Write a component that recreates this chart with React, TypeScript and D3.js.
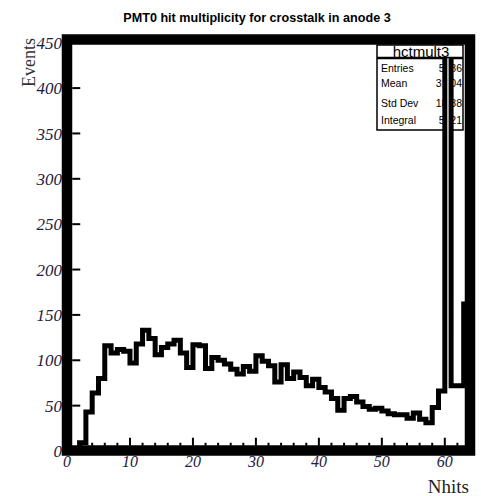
import React, { useRef, useEffect } from 'react';
import * as d3 from 'd3';

// hit multiplicity histogram, one bin per Nhits value (0..63)
const counts = [
  0, 0, 9, 43, 64, 80, 116, 108, 112, 110,
  97, 118, 133, 124, 106, 114, 118, 122, 108, 92,
  117, 116, 91, 103, 100, 96, 90, 85, 93, 88,
  105, 99, 94, 76, 95, 80, 87, 81, 72, 79,
  70, 65, 58, 45, 58, 60, 54, 49, 46, 47,
  44, 41, 40, 40, 36, 42, 35, 31, 48, 66,
  484, 72, 72, 162,
];
const yTicks = [0, 50, 100, 150, 200, 250, 300, 350, 400, 450];
const xTicks = [0, 10, 20, 30, 40, 50, 60];
const statLabels = ['Entries', 'Mean', 'Std Dev', 'Integral'];
const statValues = ['5386', '31.04', '18.88', '5321'];

function App() {
  const svgRef = useRef<SVGSVGElement>(null);

  useEffect(() => {
    const svg = d3.select(svgRef.current);
    svg.selectAll('*').remove();

    const width = 481;
    const height = 496;
    const left = 67, right = 470, top = 40, bottom = 451;

    const x = d3.scaleLinear().domain([0, 64]).range([left, right]);
    const y = d3.scaleLinear().domain([0, 453]).range([bottom, top]);

    svg.append('rect').attr('width', width).attr('height', height).attr('fill', '#fff');

    // Title
    svg.append('text')
      .attr('x', 257)
      .attr('y', 22)
      .attr('text-anchor', 'middle')
      .attr('font-family', 'Liberation Sans, Arial, sans-serif')
      .attr('font-weight', 'bold')
      .attr('font-size', '12.6px')
      .text('PMT0 hit multiplicity for crosstalk in anode 3');

    // Stats box body (the histogram spike is drawn over it)
    const sb = svg.append('g').attr('font-family', 'Liberation Sans, Arial, sans-serif');
    sb.append('rect')
      .attr('x', 377).attr('y', 58.5).attr('width', 86).attr('height', 71.5)
      .attr('fill', '#fff').attr('stroke', '#000').attr('stroke-width', 1.5);
    const rowY = [72, 87, 107, 124];
    statLabels.forEach((lab, i) => {
      sb.append('text').attr('x', 381).attr('y', rowY[i])
        .attr('font-size', '10.5px').text(lab);
      sb.append('text').attr('x', 462).attr('y', rowY[i])
        .attr('text-anchor', 'end')
        .attr('font-size', '10.5px').text(statValues[i]);
    });

    // Histogram
    svg.append('clipPath').attr('id', 'frameClip')
      .append('rect')
      .attr('x', left).attr('y', top)
      .attr('width', right - left).attr('height', bottom - top);

    const pts: [number, number][] = [];
    counts.forEach((c, i) => {
      pts.push([i, c]);
      pts.push([i + 1, c]);
    });

    const area = d3.area<[number, number]>()
      .x(d => x(d[0]))
      .y0(y(0))
      .y1(d => y(d[1]));
    const line = d3.line<[number, number]>()
      .x(d => x(d[0]))
      .y(d => y(d[1]));

    const hg = svg.append('g').attr('clip-path', 'url(#frameClip)');
    hg.append('path').attr('d', area(pts)).attr('fill', '#fff');
    hg.append('path').attr('d', line(pts))
      .attr('fill', 'none')
      .attr('stroke', '#000')
      .attr('stroke-width', 5)
      .attr('stroke-linejoin', 'miter');

    // Stats box title sits on top of the spike
    const st = svg.append('g').attr('font-family', 'Liberation Sans, Arial, sans-serif');
    st.append('rect')
      .attr('x', 377).attr('y', 45).attr('width', 86).attr('height', 12.5)
      .attr('fill', '#fff').attr('stroke', '#000').attr('stroke-width', 1.5);
    st.append('text')
      .attr('x', 421).attr('y', 56.5)
      .attr('text-anchor', 'middle')
      .attr('font-size', '15px')
      .text('hctmult3');

    // Ticks
    const inner = 5.25;
    yTicks.forEach(t => {
      svg.append('line')
        .attr('x1', left + inner).attr('x2', left + inner + 8)
        .attr('y1', y(t)).attr('y2', y(t))
        .attr('stroke', '#000').attr('stroke-width', 2);
    });
    d3.range(0, 65, 2).forEach(t => {
      const major = t % 10 === 0;
      svg.append('line')
        .attr('x1', x(t)).attr('x2', x(t))
        .attr('y1', bottom - inner).attr('y2', bottom - inner - (major ? 8 : 3))
        .attr('stroke', '#000').attr('stroke-width', 2);
    });

    // Frame
    svg.append('rect')
      .attr('x', left).attr('y', top - 0.5)
      .attr('width', right - left).attr('height', bottom - top)
      .attr('fill', 'none')
      .attr('stroke', '#000')
      .attr('stroke-width', 10.5);

    // Tick labels
    yTicks.forEach(t => {
      svg.append('text')
        .attr('x', 62).attr('y', y(t)).attr('dy', '0.36em')
        .attr('text-anchor', 'end')
        .attr('font-family', 'Liberation Serif, Times New Roman, serif')
        .attr('font-style', 'italic')
        .attr('font-size', '17px')
        .attr('fill', '#1c2040')
        .text(t);
    });
    xTicks.forEach(t => {
      svg.append('text')
        .attr('x', x(t)).attr('y', 467)
        .attr('text-anchor', 'middle')
        .attr('font-family', 'Liberation Serif, Times New Roman, serif')
        .attr('font-style', 'italic')
        .attr('font-size', '16px')
        .attr('fill', '#1c2040')
        .text(t);
    });

    // Axis titles
    svg.append('text')
      .attr('transform', 'translate(35,38) rotate(-90)')
      .attr('text-anchor', 'end')
      .attr('font-family', 'Liberation Serif, Times New Roman, serif')
      .attr('font-size', '18px')
      .attr('fill', '#333')
      .text('Events');
    svg.append('text')
      .attr('x', 469).attr('y', 493)
      .attr('text-anchor', 'end')
      .attr('font-family', 'Liberation Serif, Times New Roman, serif')
      .attr('font-size', '19px')
      .attr('fill', '#222')
      .text('Nhits');
  }, []);

  return (
    <svg
      ref={svgRef}
      width={481}
      height={496}
      style={{ position: 'absolute', left: 0, top: 0, display: 'block' }}
    />
  );
}

export default App;
